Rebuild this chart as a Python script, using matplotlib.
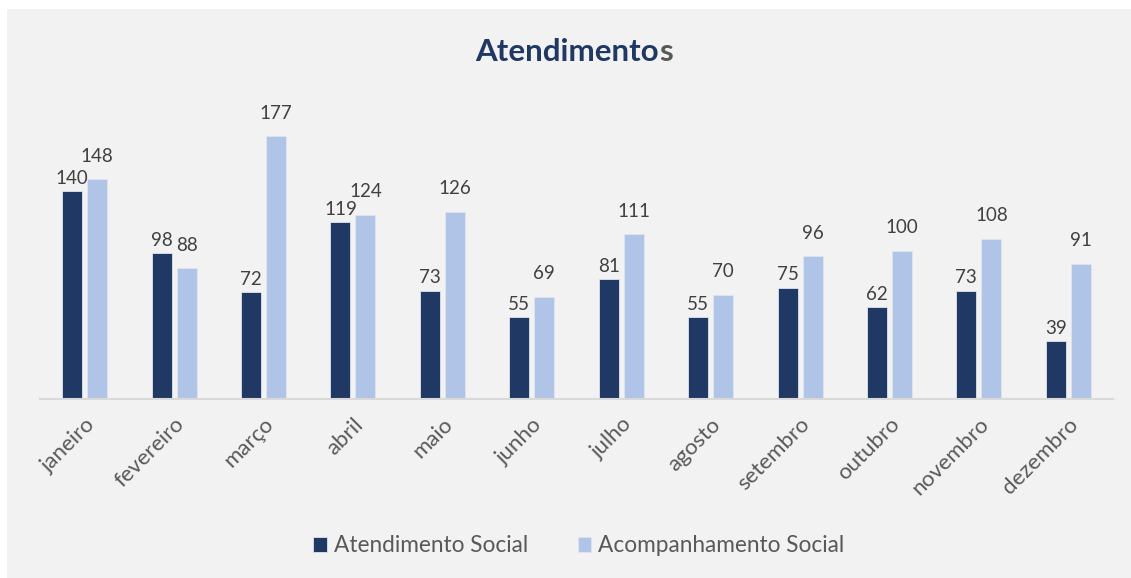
import matplotlib
matplotlib.use("Agg")
import matplotlib.pyplot as plt
from matplotlib.patches import Rectangle
import numpy as np

months = ["janeiro", "fevereiro", "março", "abril", "maio", "junho",
          "julho", "agosto", "setembro", "outubro", "novembro", "dezembro"]
atendimento = [140, 98, 72, 119, 73, 55, 81, 55, 75, 62, 73, 39]
acompanhamento = [148, 88, 177, 124, 126, 69, 111, 70, 96, 100, 108, 91]
series_names = ["Atendimento Social", "Acompanhamento Social"]

plt.rcParams['font.family'] = ['Lato', 'DejaVu Sans']

W, H = 1131, 578
fig = plt.figure(figsize=(W / 100, H / 100), dpi=100, facecolor="white")
bg = Rectangle((7 / W, 0), 1 - 7 / W, (H - 9) / H, transform=fig.transFigure,
               facecolor="#f2f2f2", edgecolor="none", zorder=-10)
fig.patches.append(bg)

ax = fig.add_axes([40 / W, (H - 399) / H, 1073 / W, 297 / H])
ax.set_facecolor("none")

dark = "#1f3864"
light = "#afc4e6"
x = np.arange(len(months))
bw = 0.224
off = 0.14
b1 = ax.bar(x - off, atendimento, bw, color=dark, edgecolor="#dfe5ef", linewidth=0.6,
            label=series_names[0])
b2 = ax.bar(x + off, acompanhamento, bw, color=light, edgecolor="#dfe5ef", linewidth=0.6,
            label=series_names[1])

for bars, vals, dy in ((b1, atendimento, 3), (b2, acompanhamento, 10.5)):
    for r, v in zip(bars, vals):
        ax.annotate(str(v), (r.get_x() + r.get_width() / 2, v), xytext=(0, dy),
                    textcoords="offset points", ha="center", va="bottom",
                    fontsize=13.5, color="#404040")

ax.set_xlim(-0.5, len(months) - 0.5)
ax.set_ylim(0, 200)
ax.set_yticks([])
for s in ["top", "right", "left"]:
    ax.spines[s].set_visible(False)
ax.spines["bottom"].set_color("#d9d9d9")
ax.spines["bottom"].set_linewidth(1.5)
ax.set_xticks(x)
ax.set_xticklabels(months, rotation=45, ha="right", rotation_mode="anchor",
                   fontsize=16, color="#595959")
ax.tick_params(axis="x", length=0, pad=11)

ty = (H - 66) / H
t1 = fig.text(0.5, ty, "Atendimento", ha="left", va="bottom",
              fontsize=22.5, fontweight="bold", color="#1f3864")
t2 = fig.text(0, ty, "s", ha="left", va="bottom",
              fontsize=22.5, fontweight="bold", color="#595959")
fig.canvas.draw()
w1 = t1.get_window_extent().width
w2 = t2.get_window_extent().width
x0 = 574 - (w1 + w2) / 2
t1.set_position((x0 / W, ty))
t2.set_position(((x0 + w1) / W, ty))

leg = fig.legend(handles=[b1, b2], labels=series_names, loc="center",
                 bbox_to_anchor=(579 / W, (H - 546) / H), ncol=2, frameon=False,
                 fontsize=16.3, handlelength=0.6, handleheight=0.6, handletextpad=0.3,
                 columnspacing=2.2, labelcolor="#595959")

fig.savefig("out.png", dpi=100, facecolor="white")
